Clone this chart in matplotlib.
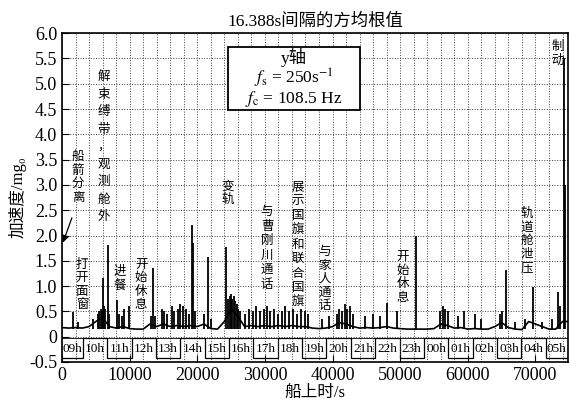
import matplotlib
matplotlib.use("Agg")
import matplotlib.pyplot as plt
from matplotlib.patches import Rectangle
from matplotlib.ticker import MultipleLocator

plt.rcParams["font.family"] = ["Liberation Serif", "Noto Sans CJK SC", "DejaVu Sans"]
plt.rcParams["mathtext.fontset"] = "stix"

# baseline of the RMS trace (s, mg0)
base_t = [0, 1000, 2000, 3000, 4000, 5000, 6000, 7000, 8000, 9000,
          10000, 11000, 12000, 13000, 14000, 15000, 16000, 17000, 18000, 19000,
          20000, 21000, 22000, 23000, 24000, 25000, 26000, 27000, 28000, 29000,
          30000, 31000, 32000, 33000, 34000, 35000, 36000, 37000, 38000, 39000,
          40000, 41000, 42000, 43000, 44000, 45000, 46000, 47000, 48000, 49000,
          50000, 51000, 52000, 53000, 54000, 55000, 56000, 57000, 58000, 59000,
          60000, 61000, 62000, 63000, 64000, 65000, 66000, 67000, 68000, 69000,
          70000, 71000, 72000, 73000, 74000, 74800]
base_v = [0.18, 0.17, 0.18, 0.17, 0.20, 0.30, 0.38, 0.20, 0.17, 0.20,
          0.16, 0.15, 0.15, 0.25, 0.20, 0.25, 0.20, 0.22, 0.20, 0.22,
          0.20, 0.25, 0.16, 0.15, 0.30, 0.55, 0.40, 0.20, 0.22, 0.20,
          0.22, 0.20, 0.22, 0.20, 0.22, 0.20, 0.20, 0.17, 0.16, 0.17,
          0.20, 0.28, 0.25, 0.20, 0.17, 0.18, 0.17, 0.18, 0.20, 0.17,
          0.16, 0.15, 0.15, 0.15, 0.15, 0.16, 0.25, 0.22, 0.17, 0.18,
          0.15, 0.16, 0.15, 0.15, 0.20, 0.28, 0.18, 0.15, 0.14, 0.30,
          0.25, 0.20, 0.15, 0.15, 0.30, 0.30]

# individual peaks
spike_t = [1600, 2400, 4600, 5300, 5500, 5700, 5900, 6060, 6200, 6400, 6800, 7000,
           8100, 8500, 8800, 9200, 9900, 13100, 13400, 13700,
           14800, 15100, 15500, 16200, 16600, 17100, 17500, 17900, 18400, 18800,
           19200, 19350, 19700, 21000, 21600, 22000,
           24200, 24600, 24800, 25000, 25200, 25400, 25600, 25800, 26000, 26300,
           27000, 27600, 28200, 28700, 29300, 29800, 30300, 30800, 31400, 31900,
           32500, 33000, 33600, 34200, 34800, 35300, 35900, 36400, 38500, 39500,
           40600, 41000, 41400, 41800, 42200, 42600, 43000,
           44800, 46000, 47000, 48000, 49500, 52300,
           55900, 56300, 56600, 57000, 58500, 59400, 61000, 62000,
           64700, 65000, 65600, 67000, 68400, 69700, 71000, 72500,
           73400, 73700, 74200, 74400]
spike_h = [0.49, 0.30, 0.35, 0.45, 0.50, 0.55, 0.50, 1.16, 0.60, 0.55, 1.81, 0.45,
           0.72, 0.45, 0.40, 0.55, 0.60, 0.40, 1.36, 0.40,
           0.55, 0.50, 0.45, 0.60, 0.50, 0.55, 0.65, 0.60, 0.55, 0.45,
           2.20, 1.85, 0.50, 0.45, 1.57, 0.35,
           1.77, 0.75, 0.80, 0.85, 0.75, 0.80, 0.70, 0.65, 0.55, 0.50,
           0.45, 0.55, 0.50, 0.60, 0.50, 0.55, 0.60, 0.50, 0.55, 0.45,
           0.50, 0.60, 0.50, 0.55, 0.45, 0.55, 0.50, 0.45, 0.35, 0.40,
           0.45, 0.55, 0.50, 0.65, 0.55, 0.60, 0.45,
           0.40, 0.45, 0.40, 0.67, 0.50, 2.00,
           0.50, 0.60, 0.55, 0.50, 0.40, 0.50, 0.45, 0.35,
           0.45, 0.50, 1.32, 0.30, 0.35, 0.98, 0.30, 0.35,
           0.88, 0.60, 5.50, 3.00]

# on-board clock track
hours = ["09h", "10h", "11h", "12h", "13h", "14h", "15h", "16h", "17h", "18h", "19h",
         "20h", "21h", "22h", "23h", "00h", "01h", "02h", "03h", "04h", "05h"]
first_hour_edge = 3100
hour_len = 3600

# event annotations: (text, time, top y, line spacing)
events = [
    ("船箭分离", 2360, 3.69, 1.05),
    ("打开面窗", 2950, 1.56, 1.05),
    ("解束缚带，观测舱外", 6200, 5.27, 1.45),
    ("进餐", 8570, 1.42, 1.05),
    ("开始休息", 11700, 1.56, 1.05),
    ("变轨", 24500, 3.10, 1.05),
    ("与曹刚川通话", 30300, 2.60, 1.15),
    ("展示国旗和联合国旗", 34900, 3.10, 1.15),
    ("与家人通话", 38800, 1.81, 1.05),
    ("开始休息", 50400, 1.71, 1.05),
    ("轨道舱泄压", 68700, 2.56, 1.05),
    ("制动", 73300, 5.86, 1.05),
]

box_lines = ["y轴", "$f_{\\rm s}$ = 250s$^{-1}$", "$f_{\\rm c}$ = 108.5 Hz"]

serif_cjk = ["Liberation Serif", "Noto Sans CJK SC", "DejaVu Sans"]
cjk = ["Noto Sans CJK SC", "DejaVu Sans"]

fig = plt.figure(figsize=(5.71, 4.07), dpi=100)
ax = fig.add_axes([0.1086, 0.1106, 0.886, 0.808])

ax.plot(base_t, base_v, color="black", lw=1.2)
ax.vlines(spike_t, [0.15] * len(spike_t), spike_h, color="black", lw=1.3)

# clock square wave
edges = [0] + [first_hour_edge + hour_len * k for k in range(len(hours) - 1)] + [74800]
levels = [-0.43 if i % 2 == 0 else -0.02 for i in range(len(hours))]
ax.stairs(levels, edges, baseline=None, color="black", lw=0.9)
ax.axhline(-0.02, color="black", lw=0.6)
for i, h in enumerate(hours):
    ax.text((edges[i] + edges[i + 1]) / 2, -0.24, h, ha="center", va="center", fontsize=9.5)

for txt, t, top, ls in events:
    ax.text(t, top, "\n".join(txt), ha="center", va="top", fontsize=9,
            linespacing=ls, family=cjk)
ax.annotate("", xy=(0, 1.81), xytext=(1600, 2.4),
            arrowprops=dict(arrowstyle="-|>", color="black", lw=0.9))

# parameter box
ax.add_patch(Rectangle((0.328, 0.766), 0.261, 0.191, transform=ax.transAxes,
                       fc="white", ec="black", lw=1.3, zorder=3))
for line, yy in zip(box_lines, [0.927, 0.863, 0.799]):
    ax.text(0.458, yy, line, transform=ax.transAxes, ha="center", va="center",
            fontsize=12.5, family=serif_cjk, zorder=4)

ax.set_xlim(0, 74800)
ax.set_ylim(-0.5, 6.0)
ax.xaxis.set_major_locator(MultipleLocator(10000))
ax.xaxis.set_minor_locator(MultipleLocator(2000))
yt = [-0.5 + 0.5 * k for k in range(14)]
ax.set_yticks(yt)
ax.set_yticklabels([("0" if abs(v) < 1e-9 else f"{v:.1f}") for v in yt])
ax.tick_params(direction="in", labelsize=13, length=5)
ax.tick_params(which="minor", length=0)
ax.grid(True, which="both", axis="x", ls=":", color="0.25", lw=0.7)
ax.grid(True, which="major", axis="y", ls=":", color="0.25", lw=0.7)
for s in ax.spines.values():
    s.set_linewidth(1.2)

ax.set_title("16.388s间隔的方均根值", fontsize=12.5, pad=5, family=serif_cjk)
ax.set_xlabel("船上时/s", fontsize=12, labelpad=1, family=serif_cjk)
ax.set_ylabel("加速度/mg₀", fontsize=12, labelpad=2, family=serif_cjk)

fig.savefig("out.png", dpi=100)
